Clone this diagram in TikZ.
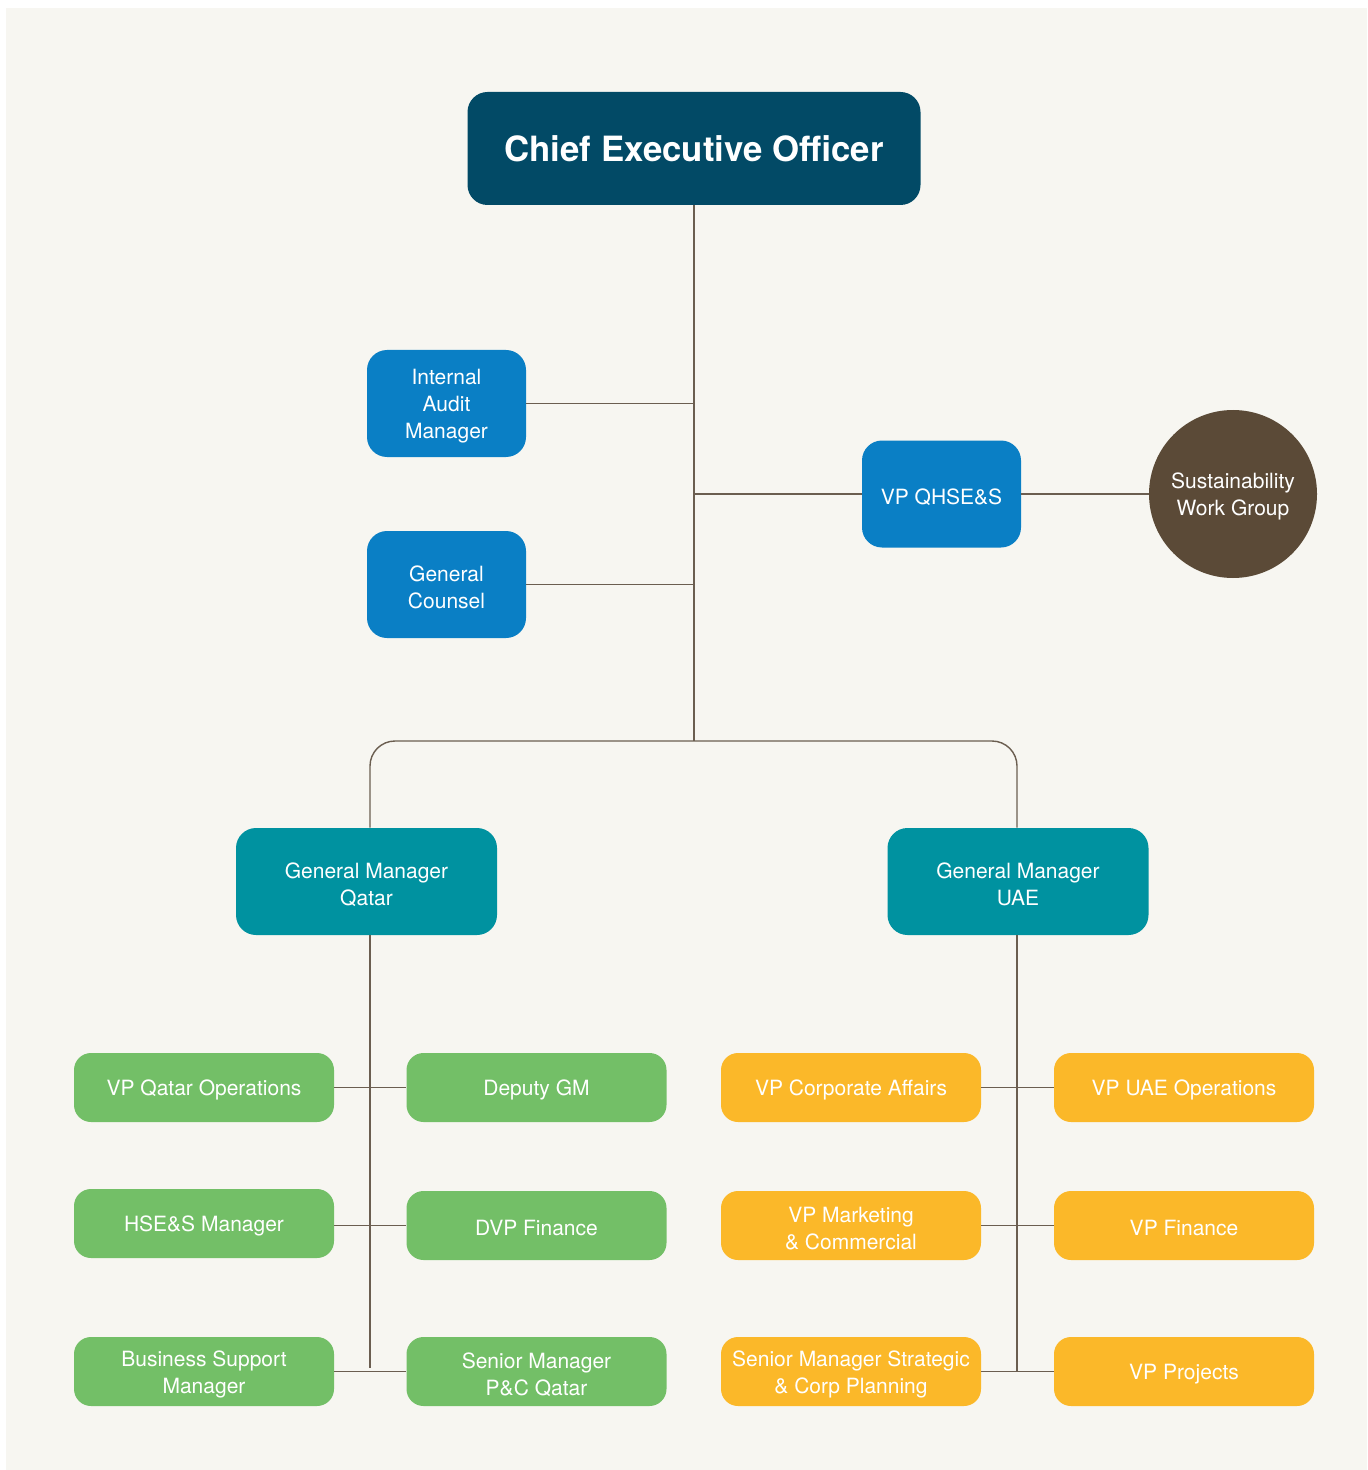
\documentclass[tikz,border=0pt]{standalone}
\usepackage{fontspec}
\setmainfont{TeX Gyre Heros}
\definecolor{paper}{HTML}{F7F6F1}
\definecolor{ceoblue}{HTML}{024A66}
\definecolor{midblue}{HTML}{0A7FC5}
\definecolor{gmteal}{HTML}{0092A0}
\definecolor{leaf}{HTML}{73BF67}
\definecolor{amber}{HTML}{FBB829}
\definecolor{bark}{HTML}{5B4A37}
\definecolor{wire}{HTML}{6B5E50}
\newcommand{\lift}{\rule{0pt}{10.6pt}}

\begin{document}
\begin{tikzpicture}[x=0.5pt,y=-0.5pt,
  txt/.style={text=white,align=center,inner sep=0pt,font=\fontsize{10.5}{13.5}\selectfont,
    execute at begin node={\rule{0pt}{10.6pt}}},
  ceobox/.style={txt,fill=ceoblue,rounded corners=10pt,minimum width=226.5pt,minimum height=56.5pt,font=\fontsize{17.4}{20}\selectfont\bfseries,
    execute at begin node={\rule{0pt}{13.5pt}}},
  staff/.style={txt,fill=midblue,rounded corners=10pt,minimum width=79.5pt,minimum height=53.5pt},
  gm/.style={txt,fill=gmteal,rounded corners=10pt,minimum width=130.5pt,minimum height=53.5pt},
  unit/.style={txt,rounded corners=8.5pt,minimum width=130pt,minimum height=34.5pt},
  group/.style={txt,fill=bark,circle,minimum size=84pt},
  wire/.style={draw=wire,line width=0.7pt}]
    \useasboundingbox(0,0)rectangle(1367,1470);
    \fill[paper](6,8)rectangle(1367,1470);

    % top of the chart
    \node[ceobox](ceo)at(694,148.5){Chief Executive Officer};
    \node[staff](audit)at(446.5,403.5){\lift Internal\\Audit\\Manager};
    \node[staff](counsel)at(446.5,584.5){\lift General\\Counsel};
    \node[staff](qhse)at(941.5,494){VP QHSE\&S};
    \node[group](swg)at(1233,494){\lift Sustainability\\Work Group};
    \node[gm](gmq)at(366.5,881.5){\lift General Manager\\Qatar};
    \node[gm](gmu)at(1018,881.5){\lift General Manager\\UAE};

    \coordinate(hub)at(694,741);\coordinate(qlow)at(370,1368);\coordinate(ulow)at(1017,1371);

    % Qatar units
    \foreach\n/\x/\y/\t in{qo/204/1087.5/{VP Qatar Operations},dgm/536.5/1087.5/{Deputy GM},
        hse/204/1223.5/{HSE\&S Manager},dvp/536.5/1225.5/{DVP Finance},
        bsm/204/1371.5/{\lift Business Support\\Manager},pcq/536.5/1371.5/{\lift Senior Manager\\P\&C Qatar}}
        {\node[unit,fill=leaf](\n)at(\x,\y){\t};};
    % UAE units
    \foreach\n/\x/\y/\t in{ca/851/1087.5/{VP Corporate Affairs},uo/1184/1087.5/{VP UAE Operations},
        mc/851/1225.5/{\lift VP Marketing\\\& Commercial},fin/1184/1225.5/{VP Finance},
        scp/851/1371.5/{\lift Senior Manager Strategic\\\& Corp Planning},prj/1184/1371.5/{VP Projects}}
        {\node[unit,fill=amber](\n)at(\x,\y){\t};};

    % connectors
    \draw[wire](ceo.south)--(hub);
    \draw[wire](audit.east)--(audit.east-|hub);
    \draw[wire](counsel.east)--(counsel.east-|hub);
    \draw[wire](qhse.west-|hub)--(qhse.west);
    \draw[wire](qhse.east)--(swg.west);
    \draw[wire,rounded corners=12.5pt](qlow|-gmq.north)|-(hub)-|(ulow|-gmu.north);
    \draw[wire](qlow|-gmq.south)--(qlow);
    \draw[wire](ulow|-gmu.south)--(ulow);
    \draw[wire](qo.east)--(dgm.west);\draw[wire](hse.east|-dvp.west)--(dvp.west);\draw[wire](bsm.east)--(pcq.west);
    \draw[wire](ca.east)--(uo.west);\draw[wire](mc.east)--(fin.west);\draw[wire](scp.east)--(prj.west);
\end{tikzpicture}
\end{document}
